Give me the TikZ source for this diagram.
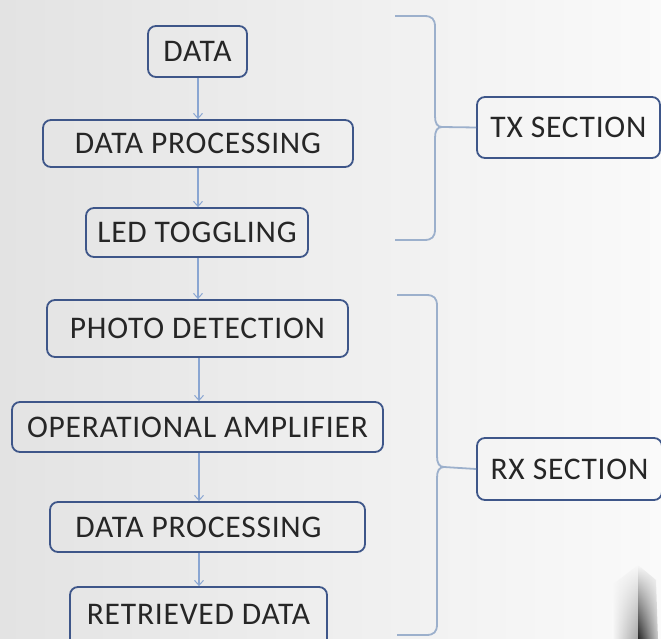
\documentclass[tikz,border=0pt]{standalone}
\usepackage{fontspec}
\setmainfont[LetterSpace=2.5]{Carlito}
\usetikzlibrary{arrows.meta,fadings}
\definecolor{boxline}{HTML}{3E5689}
\definecolor{flowline}{HTML}{8AA6D2}
\definecolor{braceline}{HTML}{9CB0CC}
\definecolor{inktext}{HTML}{262626}
\tikzset{
  stage/.style={draw=boxline, line width=1.8pt, rounded corners=8pt,
    text=inktext, font=\fontsize{31.5}{31.5}\selectfont, inner sep=0pt, anchor=center},
  flow/.style={draw=flowline, line width=1.4pt,
    -{Straight Barb[length=5pt,width=9pt,line width=1pt]}},
  bracepath/.style={draw=braceline, line width=1.8pt, line join=round}
}
\begin{document}
\begin{tikzpicture}[x=1pt,y=-1pt]
  % page and soft grey backdrop
  \useasboundingbox (0,0) rectangle (661,639);
  \shade[left color=black!11, right color=black!2] (0,0) rectangle (661,639);

  % transmitter chain
  \node[stage, minimum width=99pt,  minimum height=51pt] (data)  at (197.5,51.5)  {DATA};
  \node[stage, minimum width=310pt, minimum height=47pt] (proc1) at (198,143.5)   {DATA PROCESSING};
  \node[stage, minimum width=222pt, minimum height=49pt] (led)   at (197,232.5)   {LED TOGGLING};

  % receiver chain
  \node[stage, minimum width=301pt, minimum height=57pt] (photo) at (197.5,328.5) {PHOTO DETECTION};
  \node[stage, minimum width=371pt, minimum height=50pt] (amp)   at (197.5,427)   {OPERATIONAL AMPLIFIER};
  \node[stage, minimum width=315pt, minimum height=50pt] (proc2) at (207.5,527)   {\hspace*{-18pt}DATA PROCESSING};
  \node[stage, minimum width=257pt, minimum height=62pt] (ret)   at (198.5,618)   {\raisebox{8pt}{RETRIEVED DATA}};

  % section labels
  \node[stage, minimum width=183pt, minimum height=61pt] (tx) at (568.5,127.5) {TX SECTION};
  \node[stage, minimum width=185pt, minimum height=62pt] (rx) at (569.5,469)   {RX SECTION};

  % signal flow
  \draw[flow] (data.south -| 198,0)  -- (proc1.north -| 198,0);
  \draw[flow] (proc1.south -| 198,0) -- (led.north -| 198,0);
  \draw[flow] (led.south -| 198,0)   -- (photo.north -| 198,0);
  \draw[flow] (photo.south -| 199,0) -- (amp.north -| 199,0);
  \draw[flow] (amp.south -| 199,0)   -- (proc2.north -| 199,0);
  \draw[flow] (proc2.south -| 199,0) -- (ret.north -| 199,0);

  % braces grouping each section
  \coordinate (txtop) at (395,16);
  \coordinate (txbot) at (395,240);
  \coordinate (txtip) at (442,127);
  \draw[bracepath] (txtop) -- (424,16) .. controls (432,16) and (435,19) .. (435,27)
    -- (435,116) .. controls (435,123) and (437,127) .. (txtip)
    .. controls (437,127) and (435,131) .. (435,138)
    -- (435,229) .. controls (435,237) and (432,240) .. (424,240) -- (txbot);
  \draw[bracepath] (txtip) -- (tx.west);

  \coordinate (rxtop) at (397,295);
  \coordinate (rxbot) at (397,635);
  \coordinate (rxtip) at (444,467);
  \draw[bracepath] (rxtop) -- (426,295) .. controls (434,295) and (437,298) .. (437,306)
    -- (437,456) .. controls (437,463) and (439,467) .. (rxtip)
    .. controls (439,467) and (437,471) .. (437,478)
    -- (437,624) .. controls (437,632) and (434,635) .. (426,635) -- (rxbot);
  \draw[bracepath] (rxtip) -- (rx.west);

  % soft dark smudge in the lower right corner
  \shade[left color=black!2, right color=black!35, path fading=north]
    (612,585) -- (638,565) -- (638,639) -- (612,639) -- cycle;
  \shade[left color=black!85, right color=black!20, path fading=north]
    (638,565) -- (656,580) -- (658,639) -- (638,639) -- cycle;
\end{tikzpicture}
\end{document}
